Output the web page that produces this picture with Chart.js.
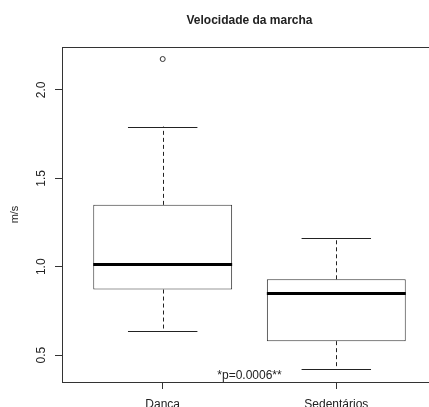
<!DOCTYPE html>
<html><head><meta charset="utf-8">
<script src="https://cdn.jsdelivr.net/npm/chart.js@4.4.1/dist/chart.umd.min.js"></script>
<style>
html,body{margin:0;padding:0;background:#fff;overflow:hidden;width:429px;height:407px;}
#wrap{position:relative;width:429px;height:407px;overflow:hidden;background:#fff;}
canvas{position:absolute;left:0;top:0;}
</style></head><body>
<div id="wrap"><canvas id="c" width="460" height="407"></canvas></div>
<script>
const chartTitle = 'Velocidade da marcha';
const yTitle = 'm/s';
const categories = ['Danca', 'Sedentários'];
const lowerWhisker = [0.638, 0.421];
const q1 = [0.871, 0.579];
const median = [1.013, 0.851];
const q3 = [1.350, 0.929];
const upperWhisker = [1.793, 1.163];
const outliers = [[2.175], []];
const yTicks = [0.5, 1.0, 1.5, 2.0];
const annotation = '*p=0.0006**';

const FONT = "'Liberation Sans', Arial, sans-serif";
const INK = '#222';
const LINE = '#333';

const boxData = categories.map((c, i) => ({x: i + 1, y: [q1[i], q3[i]]}));
const outlierData = [];
outliers.forEach((arr, i) => arr.forEach(v => outlierData.push({x: i + 1, y: v})));

const boxExtras = {
  id: 'boxExtras',
  afterDatasetsDraw(chart) {
    const {ctx, chartArea: a, scales: {x, y}} = chart;
    ctx.save();
    const cr = v => Math.round(v) + 0.5;
    categories.forEach((c, i) => {
      const cx = cr(x.getPixelForValue(i + 1));
      const capL = x.getPixelForValue(i + 1 - 0.2), capR = x.getPixelForValue(i + 1 + 0.2);
      const boxL = x.getPixelForValue(i + 1 - 0.4), boxR = x.getPixelForValue(i + 1 + 0.4);
      ctx.strokeStyle = INK; ctx.lineWidth = 1;
      ctx.setLineDash([4, 3]);
      ctx.beginPath();
      ctx.moveTo(cx, y.getPixelForValue(q3[i])); ctx.lineTo(cx, y.getPixelForValue(upperWhisker[i]));
      ctx.moveTo(cx, y.getPixelForValue(q1[i])); ctx.lineTo(cx, y.getPixelForValue(lowerWhisker[i]));
      ctx.stroke();
      ctx.setLineDash([]);
      ctx.beginPath();
      const uy = cr(y.getPixelForValue(upperWhisker[i])), ly = cr(y.getPixelForValue(lowerWhisker[i]));
      ctx.moveTo(capL, uy); ctx.lineTo(capR, uy);
      ctx.moveTo(capL, ly); ctx.lineTo(capR, ly);
      ctx.stroke();
      ctx.lineWidth = 3; ctx.strokeStyle = '#000';
      ctx.beginPath();
      const my = cr(y.getPixelForValue(median[i]));
      ctx.moveTo(boxL, my); ctx.lineTo(boxR, my);
      ctx.stroke();
    });
    // frame top and right
    ctx.lineWidth = 1; ctx.strokeStyle = LINE;
    ctx.beginPath();
    ctx.moveTo(a.left, cr(a.top)); ctx.lineTo(a.right, cr(a.top));
    ctx.moveTo(cr(a.right), a.top); ctx.lineTo(cr(a.right), a.bottom);
    ctx.stroke();
    // annotation
    ctx.fillStyle = INK;
    ctx.font = '12px ' + FONT;
    ctx.textAlign = 'center'; ctx.textBaseline = 'middle';
    ctx.fillText(annotation, x.getPixelForValue(1.5), y.getPixelForValue(0.385));
    // y tick labels (rotated, as in R)
    yTicks.forEach(v => {
      ctx.save();
      ctx.translate(42, y.getPixelForValue(v));
      ctx.rotate(-Math.PI / 2);
      ctx.fillText(v.toFixed(1), 0, 0);
      ctx.restore();
    });
    ctx.restore();
  }
};

new Chart(document.getElementById('c'), {
  type: 'bar',
  data: {
    datasets: [
      {type: 'bar', data: boxData, backgroundColor: '#fff', borderColor: LINE, borderWidth: 1,
       borderSkipped: false, barPercentage: 0.8, categoryPercentage: 1.0},
      {type: 'scatter', data: outlierData, pointStyle: 'circle', pointRadius: 2.5,
       backgroundColor: '#fff', borderColor: LINE, borderWidth: 1}
    ]
  },
  options: {
    responsive: false,
    devicePixelRatio: 1,
    animation: false,
    events: [],
    layout: {padding: {left: 0, right: 23, top: 0, bottom: 0}},
    plugins: {
      legend: {display: false},
      tooltip: {enabled: false},
      title: {display: true, text: chartTitle, fullSize: false, color: INK,
        font: {family: FONT, size: 12, weight: 'bold'}, padding: {top: 13.8, bottom: 18.8}}
    },
    scales: {
      x: {
        type: 'linear', min: 0.42, max: 2.58, offset: false,
        afterBuildTicks: s => { s.ticks = categories.map((c, i) => ({value: i + 1})); },
        afterFit: s => { s.height = 25; },
        ticks: {callback: v => categories[Math.round(v) - 1] ?? '', font: {family: FONT, size: 12},
          color: INK, padding: 8, maxRotation: 0, minRotation: 0, autoSkip: false},
        grid: {drawOnChartArea: false, drawTicks: true, tickLength: 7, color: LINE, offset: false},
        border: {display: true, color: LINE, width: 1}
      },
      y: {
        type: 'linear', min: 0.348, max: 2.243,
        afterBuildTicks: s => { s.ticks = yTicks.map(v => ({value: v})); },
        afterFit: s => { s.width = 62; },
        ticks: {display: false},
        grid: {drawOnChartArea: false, drawTicks: true, tickLength: 7, color: LINE},
        border: {display: true, color: LINE, width: 1},
        title: {display: true, text: yTitle, color: INK, font: {family: FONT, size: 11},
          padding: {top: 8.4, bottom: 0}}
      }
    }
  },
  plugins: [boxExtras]
});
</script>
</body></html>
